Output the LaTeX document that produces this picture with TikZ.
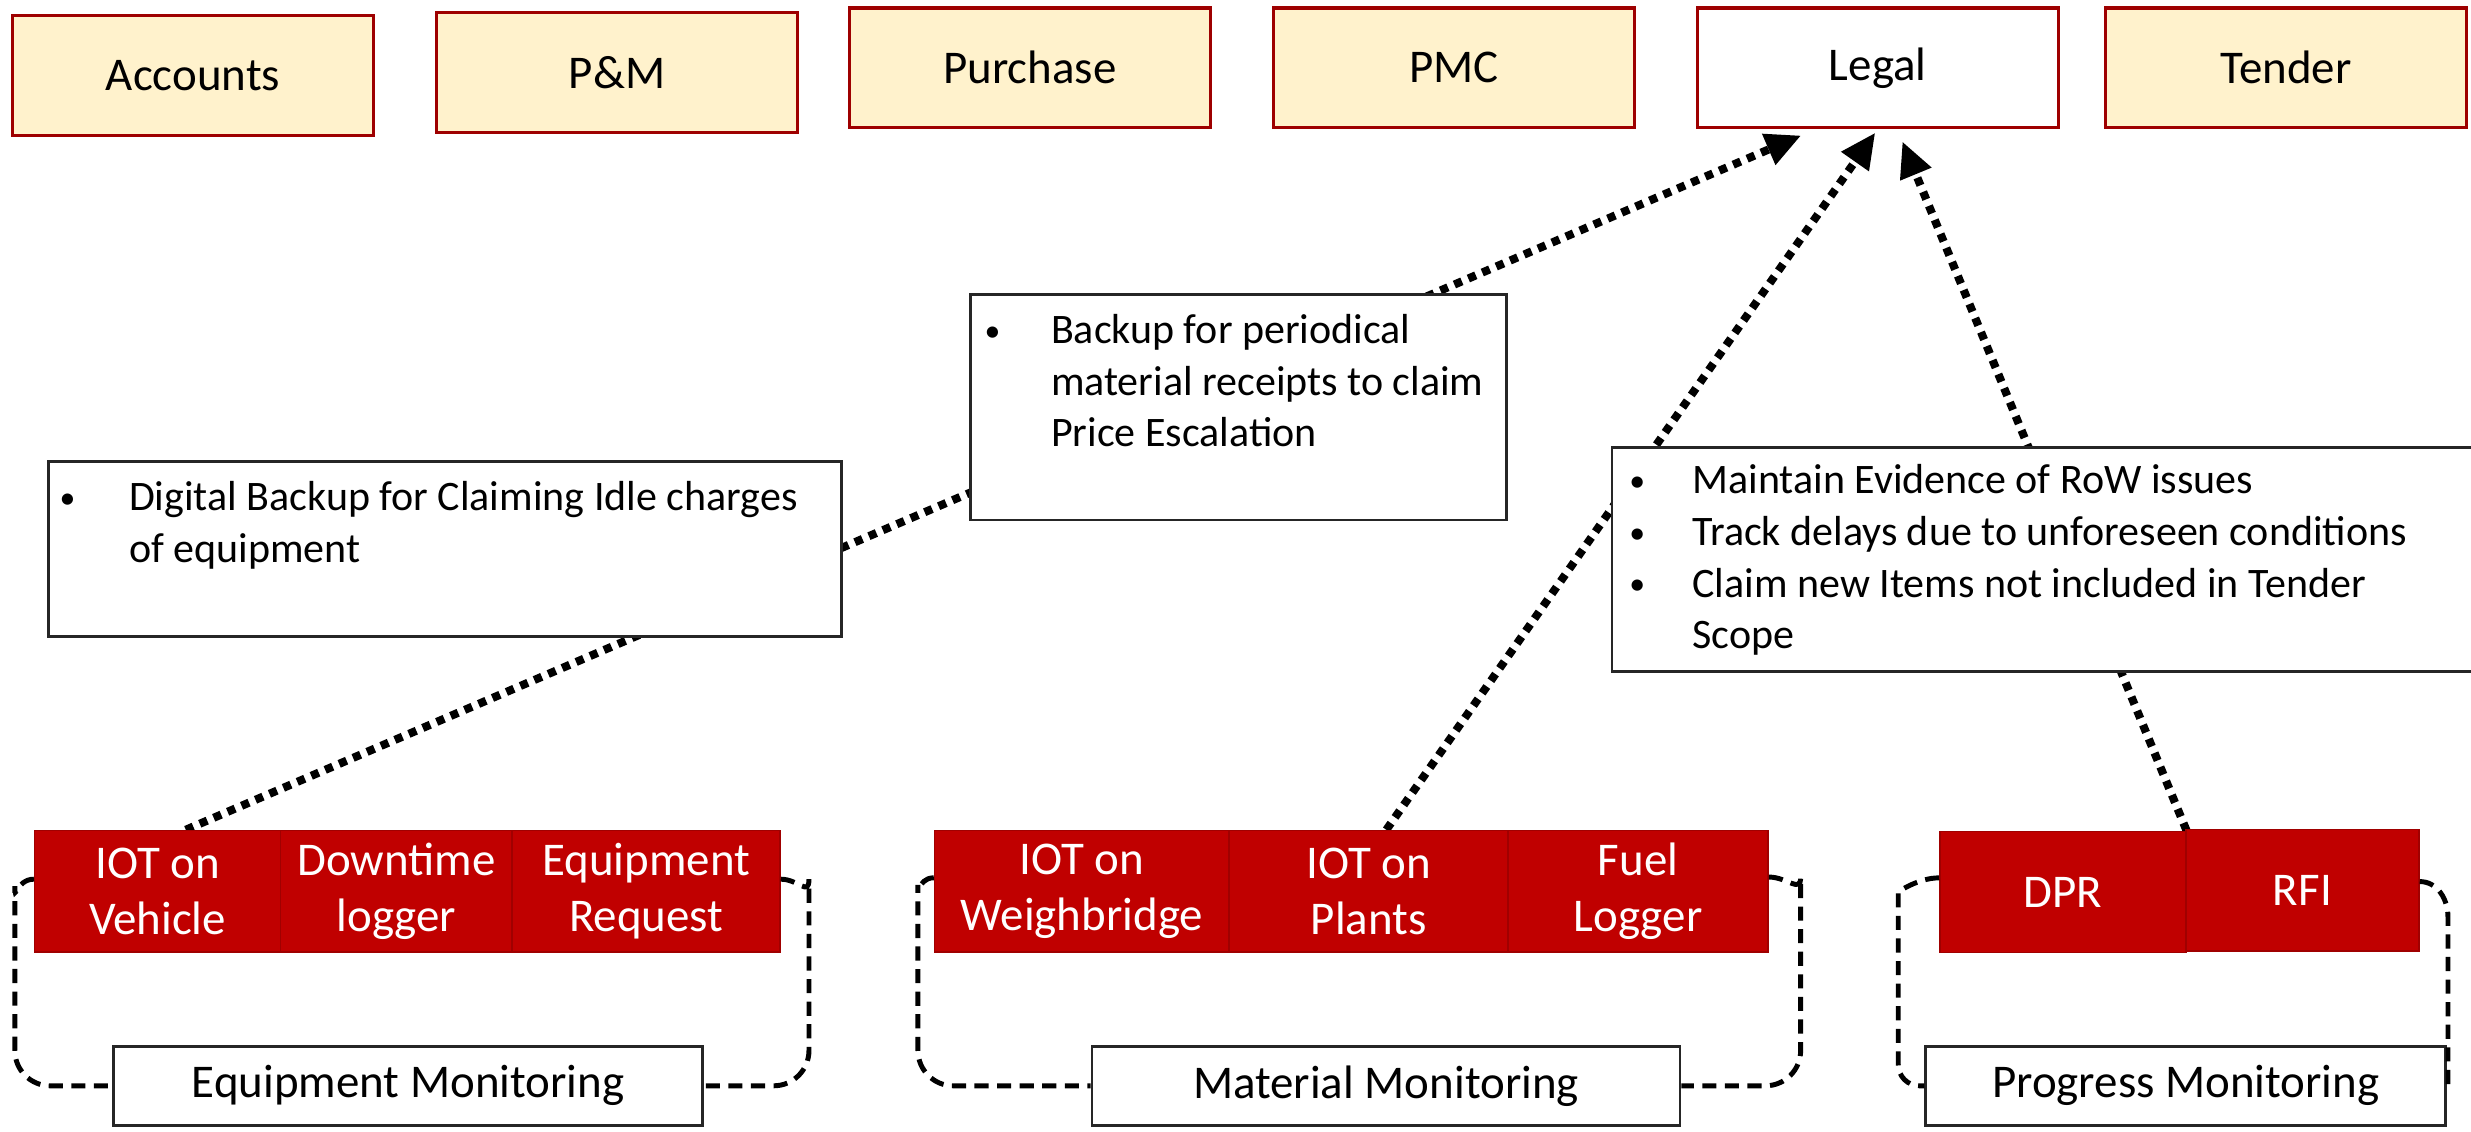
\documentclass[tikz,border=0pt]{standalone}
\usepackage{fontspec}
\setmainfont{Carlito}
\usetikzlibrary{arrows.meta,backgrounds}
\definecolor{deptfill}{HTML}{FFF2CC}
\definecolor{deptline}{HTML}{9E0000}
\definecolor{iotred}{HTML}{C00000}
\definecolor{iotline}{HTML}{A00000}
\newcommand{\bul}[1]{\par\noindent\hangindent=#1\hangafter=1%
  \makebox[#1][l]{\raisebox{0.7pt}{\fontsize{9}{9}\selectfont\textbullet}}}
\tikzset{
  dept/.style={draw=deptline, line width=0.9pt, fill=deptfill, minimum width=102.3pt,
    minimum height=33.9pt, inner sep=0pt, font=\fontsize{13.3}{16}\selectfont},
  cell/.style={draw=iotline, line width=0.4pt, fill=iotred, text=white, minimum height=34.4pt,
    inner sep=0pt, align=center, font=\fontsize{13.3}{16}\selectfont},
  monbox/.style={draw=black!85, line width=0.8pt, fill=white, minimum height=22.3pt,
    inner sep=0pt, font=\fontsize{13.3}{16}\selectfont},
  note/.style={draw=black!85, line width=0.8pt, fill=white, anchor=north west, inner ysep=0pt,
    font=\fontsize{11.9}{14.6}\selectfont},
  dotline/.style={line width=2.3pt, dash pattern=on 2.3pt off 2pt,
    -{Triangle[length=10pt,width=9pt]}},
  loopline/.style={line width=1.4pt, dash pattern=on 4pt off 2.4pt, rounded corners=10pt}
}
\begin{document}
\begin{tikzpicture}[x=0.4466pt, y=-0.4466pt]
  \useasboundingbox (0,0) rectangle (1568,718.3);
  % departments
  \node[dept] (accounts) at (122.5,48) {Accounts};
  \node[dept] (pm) at (391.5,46) {P\&M};
  \node[dept] (purchase) at (653.5,43) {Purchase};
  \node[dept] (pmc) at (922.5,43) {PMC};
  \node[dept, fill=white] (legal) at (1191.5,43) {Legal};
  \node[dept] (tender) at (1450.5,43) {Tender};
  % monitoring cells
  \node[cell, minimum width=69.7pt] (vehicle) at (100,565.5) {IOT on\\Vehicle};
  \node[cell, minimum width=65.6pt] (downtime) at (251.5,565.5) {Downtime\\logger};
  \node[cell, minimum width=75.9pt] (request) at (410,565.5) {Equipment\\Request};
  \node[cell, minimum width=83.5pt] (weigh) at (686.5,565.5) {IOT on\\Weighbridge};
  \node[cell, minimum width=79pt] (plants) at (868.5,565.5) {IOT on\\Plants};
  \node[cell, minimum width=73.7pt] (fuel) at (1039.5,565.5) {Fuel\\Logger};
  \node[cell, minimum width=69.7pt] (dpr) at (1309,566) {DPR};
  \node[cell, minimum width=66.1pt] (rfi) at (1461,565) {RFI};
  % group labels
  \node[monbox, minimum width=167pt] (eqmon) at (259,689) {Equipment Monitoring};
  \node[monbox, minimum width=166.6pt] (matmon) at (879.5,689) {Material Monitoring};
  \node[monbox, minimum width=147.4pt] (prmon) at (1387,689) {Progress Monitoring};
  % notes
  \node[note, inner xsep=3.1pt] (idle) at (30,292) {\parbox[t][49.6pt][t]{218.4pt}{\raggedright
    \bul{19.7pt}\rule{0pt}{14pt}Digital Backup for Claiming Idle charges\newline of equipment}};
  \node[note, inner xsep=4pt] (escal) at (615,186) {\parbox[t][63.9pt][t]{143.8pt}{\raggedright
    \bul{18.8pt}\rule{0pt}{14pt}Backup for periodical\newline material receipts to claim\newline Price Escalation}};
  \node[note, inner xsep=4.9pt] (row) at (1022,283) {\parbox[t][63.4pt][t]{234pt}{\raggedright\parskip=0pt
    \bul{17.9pt}\rule{0pt}{13.2pt}Maintain Evidence of RoW issues
    \bul{17.9pt}Track delays due to unforeseen conditions
    \bul{17.9pt}Claim new Items not included in Tender\newline Scope}};
  % links to legal
  \begin{scope}[on background layer]
    \draw[dotline] ([xshift=8pt]vehicle.north) -- ([xshift=-21.7pt,yshift=-1.8pt]legal.south);
    \draw[dotline] ([xshift=5pt]plants.north) -- ([xshift=-0.7pt,yshift=-1pt]legal.south);
    \draw[dotline] (dpr.north east) -- ([xshift=7pt,yshift=-3.5pt]legal.south);
  \end{scope}
  % group loops
  \draw[loopline] ([yshift=3.4pt]vehicle.west) to[out=180,in=90] ++(-5.4pt,-12pt) |- (eqmon.west);
  \draw[loopline] ([yshift=3.4pt]request.east) to[out=0,in=90] ++(8pt,-10pt) |- (eqmon.east);
  \draw[loopline] ([yshift=3.8pt]weigh.west) to[out=180,in=90] ++(-4.5pt,-12pt) |- (matmon.west);
  \draw[loopline] ([yshift=4pt]fuel.east) to[out=0,in=90] ++(9pt,-10pt) |- (matmon.east);
  \draw[loopline, rounded corners=6pt] ([yshift=4pt]dpr.west) to[out=180,in=90] ++(-11.6pt,-10pt) |- (prmon.west);
  \draw[loopline, rounded corners=0pt] ([yshift=2.5pt]rfi.east) to[out=0,in=90] ++(8pt,-10pt) |- (prmon.east);
\end{tikzpicture}
\end{document}
